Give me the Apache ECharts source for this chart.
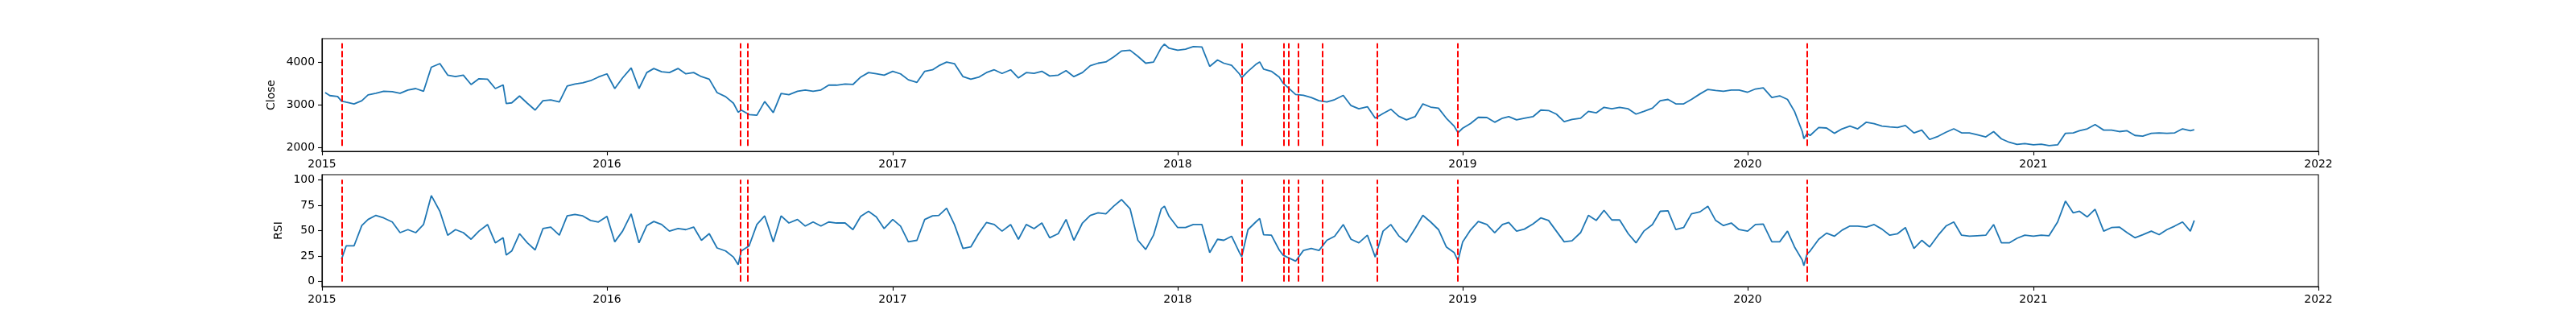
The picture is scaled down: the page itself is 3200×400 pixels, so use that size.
<!DOCTYPE html>
<html>
<head>
<meta charset="utf-8">
<title>Close / RSI</title>
<script src="https://cdn.jsdelivr.net/npm/echarts@6/dist/echarts.min.js"></script>
<style>
    html, body { margin: 0; padding: 0; background: #fff; }
    #chart { width: 3200px; height: 400px; }
</style>
</head>
<body>
<div id="chart"></div>
<script>
// 数据：按日期取样的收盘价和 RSI
const dates = [
    '2015-01-05','2015-01-11','2015-01-21','2015-01-26','2015-02-01','2015-02-11','2015-02-21','2015-03-01','2015-03-11','2015-03-21',
    '2015-04-01','2015-04-11','2015-04-21','2015-05-01','2015-05-11','2015-05-21','2015-06-01','2015-06-11','2015-06-21','2015-07-01',
    '2015-07-11','2015-07-21','2015-08-01','2015-08-11','2015-08-21','2015-08-25','2015-09-01','2015-09-11','2015-09-21','2015-10-01',
    '2015-10-11','2015-10-21','2015-11-01','2015-11-11','2015-11-21','2015-12-01','2015-12-11','2015-12-21','2016-01-01','2016-01-11',
    '2016-01-21','2016-02-01','2016-02-11','2016-02-21','2016-03-01','2016-03-11','2016-03-21','2016-04-01','2016-04-11','2016-04-21',
    '2016-05-01','2016-05-11','2016-05-21','2016-06-01','2016-06-11','2016-06-17','2016-06-21','2016-07-01','2016-07-11','2016-07-21',
    '2016-08-01','2016-08-11','2016-08-21','2016-09-01','2016-09-11','2016-09-21','2016-10-01','2016-10-11','2016-10-21','2016-11-01',
    '2016-11-11','2016-11-21','2016-12-01','2016-12-11','2016-12-21','2017-01-01','2017-01-11','2017-01-21','2017-02-01','2017-02-11',
    '2017-02-21','2017-03-01','2017-03-11','2017-03-21','2017-04-01','2017-04-11','2017-04-21','2017-05-01','2017-05-11','2017-05-21',
    '2017-06-01','2017-06-11','2017-06-21','2017-07-01','2017-07-11','2017-07-21','2017-08-01','2017-08-11','2017-08-21','2017-09-01',
    '2017-09-11','2017-09-21','2017-10-01','2017-10-11','2017-10-21','2017-11-01','2017-11-11','2017-11-21','2017-12-01','2017-12-11',
    '2017-12-15','2017-12-21','2018-01-01','2018-01-11','2018-01-21','2018-02-01','2018-02-11','2018-02-21','2018-03-01','2018-03-11',
    '2018-03-21','2018-03-24','2018-04-01','2018-04-11','2018-04-16','2018-04-21','2018-05-01','2018-05-11','2018-05-16','2018-05-21',
    '2018-06-01','2018-06-11','2018-06-21','2018-07-01','2018-07-11','2018-07-21','2018-08-01','2018-08-11','2018-08-21','2018-09-01',
    '2018-09-11','2018-09-21','2018-10-01','2018-10-11','2018-10-21','2018-11-01','2018-11-11','2018-11-21','2018-12-01','2018-12-11',
    '2018-12-21','2018-12-26','2019-01-01','2019-01-11','2019-01-21','2019-02-01','2019-02-11','2019-02-21','2019-03-01','2019-03-11',
    '2019-03-21','2019-04-01','2019-04-11','2019-04-21','2019-05-01','2019-05-11','2019-05-21','2019-06-01','2019-06-11','2019-06-21',
    '2019-07-01','2019-07-11','2019-07-21','2019-08-01','2019-08-11','2019-08-21','2019-09-01','2019-09-11','2019-09-21','2019-10-01',
    '2019-10-11','2019-10-21','2019-11-01','2019-11-11','2019-11-21','2019-12-01','2019-12-11','2019-12-21','2020-01-01','2020-01-11',
    '2020-01-21','2020-02-01','2020-02-11','2020-02-21','2020-03-01','2020-03-11','2020-03-13','2020-03-17','2020-03-21','2020-04-01',
    '2020-04-11','2020-04-21','2020-05-01','2020-05-11','2020-05-21','2020-06-01','2020-06-11','2020-06-21','2020-07-01','2020-07-11',
    '2020-07-21','2020-08-01','2020-08-11','2020-08-21','2020-09-01','2020-09-11','2020-09-21','2020-10-01','2020-10-11','2020-10-21',
    '2020-11-01','2020-11-11','2020-11-21','2020-12-01','2020-12-11','2020-12-21','2021-01-01','2021-01-11','2021-01-21','2021-02-01',
    '2021-02-11','2021-02-21','2021-03-01','2021-03-11','2021-03-21','2021-04-01','2021-04-11','2021-04-21','2021-05-01','2021-05-11',
    '2021-05-21','2021-06-01','2021-06-11','2021-06-21','2021-07-01','2021-07-11','2021-07-21','2021-07-26'
];

const close = [
    3290, 3220, 3200, 3090, 3065, 3025, 3100, 3235, 3275, 3320,
    3310, 3275, 3350, 3385, 3320, 3885, 3970, 3700, 3665, 3700,
    3480, 3615, 3605, 3385, 3470, 3035, 3050, 3210, 3040, 2880,
    3100, 3120, 3070, 3445, 3490, 3520, 3570, 3655, 3730, 3385,
    3635, 3870, 3385, 3760, 3855, 3780, 3760, 3855, 3730, 3760,
    3665, 3605, 3290, 3195, 3040, 2830, 2880, 2775, 2760, 3080,
    2820, 3270, 3240, 3320, 3350, 3320, 3350, 3465, 3465, 3490,
    3480, 3655, 3760, 3730, 3700, 3790, 3730, 3590, 3530, 3790,
    3825, 3920, 4005, 3970, 3665, 3605, 3650, 3760, 3825, 3740,
    3825, 3635, 3760, 3740, 3790, 3680, 3700, 3805, 3665, 3760,
    3920, 3980, 4010, 4125, 4265, 4285, 4140, 3980, 4005, 4345,
    4425, 4330, 4285, 4310, 4370, 4360, 3905, 4055, 3980, 3930,
    3730, 3640, 3790, 3950, 4010, 3840, 3790, 3655, 3510, 3430,
    3245, 3225, 3175, 3100, 3070, 3125, 3225, 2985, 2910, 2960,
    2690, 2800, 2900, 2735, 2650, 2725, 3025, 2950, 2925, 2690,
    2505, 2350, 2455, 2565, 2710, 2705, 2595, 2690, 2725, 2650,
    2690, 2725, 2880, 2870, 2785, 2610, 2660, 2690, 2850, 2815,
    2945, 2910, 2945, 2910, 2785, 2850, 2925, 3100, 3130, 3025,
    3025, 3130, 3260, 3365, 3340, 3320, 3350, 3350, 3300, 3375,
    3400, 3175, 3215, 3130, 2850, 2375, 2210, 2330, 2285, 2470,
    2460, 2335, 2440, 2505, 2440, 2595, 2560, 2505, 2485, 2470,
    2520, 2345, 2410, 2190, 2265, 2360, 2440, 2345, 2345, 2300,
    2250, 2375, 2205, 2125, 2075, 2095, 2065, 2080, 2045, 2065,
    2335, 2345, 2395, 2440, 2540, 2410, 2410, 2375, 2395, 2285,
    2270, 2335, 2345, 2335, 2345, 2440, 2395, 2420
];

const rsi = [
    null, null, null, 22, 35, 35, 55, 61, 65, 62.5,
    58.5, 48, 51, 48, 56, 84.5, 69, 45.5, 51, 48,
    41.5, 49.5, 56, 38, 43, 26, 30, 47, 38, 31,
    52, 53.5, 45.5, 64.5, 66, 64.5, 60, 58.5, 64, 39,
    49.5, 66.5, 38, 55, 59, 56, 49.5, 52, 51, 53.5,
    40.5, 47, 33, 30, 24, 16.5, 30, 35, 56, 64.5,
    39, 64.5, 57.5, 61, 54.5, 58.5, 54.5, 58.5, 57.5, 57.5,
    51, 64, 69, 63.5, 52, 61, 54.5, 39, 40.5, 61,
    64.5, 65, 72, 56, 32.5, 34, 47, 58, 56, 49.5,
    56, 41.5, 56, 52, 57.5, 43, 47, 61, 40.5, 57.5,
    65, 67.5, 66.5, 74, 80.5, 71.5, 40.5, 31.5, 45.5, 71.5,
    74, 64, 53, 53, 56, 56, 28.5, 41.5, 40.5, 44.5,
    28.5, 24.5, 51, 58.5, 62, 46, 45.5, 31, 26, 24,
    20, 30.5, 32.5, 30.5, 40.5, 44.5, 56, 41.5, 38, 45.5,
    24, 49.5, 56, 45, 38.5, 52, 65, 58.5, 51, 34,
    28.5, 20.5, 39, 50.5, 59, 56, 48, 56, 58, 49.5,
    51.5, 56.5, 62.5, 60, 49.5, 39, 40, 48, 65, 60,
    70, 60.5, 60.5, 47, 38, 49.5, 56, 69, 69.5, 51,
    53, 66.5, 68.5, 74, 60, 55, 57.5, 51, 49.5, 56,
    56.5, 39, 39, 49.5, 34, 21, 15.5, 27, 30, 41.5,
    47.5, 44.5, 50.5, 54.5, 54.5, 53.5, 56, 51.5, 45.5, 47,
    53, 32.5, 40.5, 34, 45.5, 54.5, 58.5, 45.5, 44.5, 45,
    45.5, 56, 38, 38, 42.5, 45.5, 44.5, 45.5, 45, 58.5,
    79, 67.5, 69, 63.5, 71, 49.5, 53, 53.5, 48, 43,
    46, 49.5, 46, 51, 54.5, 58.5, 49.5, 60
];

// 红色虚线标记的日期
const signalDates = [
    '2015-01-27', '2016-06-20', '2016-06-29', '2018-03-24', '2018-05-17', '2018-05-23',
    '2018-06-04', '2018-07-05', '2018-09-13', '2018-12-26', '2020-03-17'
];

// 虚线的上下端（上图为收盘价最低 / 最高，下图为 0 / 100）
const closeLow = 2038;
const closeHigh = 4447;
const rsiLow = 0;
const rsiHigh = 100;

// 坐标轴刻度
const xTickYears = ['2015', '2016', '2017', '2018', '2019', '2020', '2021', '2022'];
const closeTicks = [2000, 3000, 4000];
const rsiTicks = [0, 25, 50, 75, 100];

const FONT = 'DejaVu Sans';
const FONT_SIZE = 13.9;
const LINE_COLOR = '#1f77b4';

// 日期字符串转时间戳（本地时间）
function toTime(s) {
    const p = s.split('-').map(Number);
    return new Date(p[0], (p[1] || 1) - 1, p[2] || 1).getTime();
}

const xTickValues = xTickYears.map(y => toTime(y));

function makeXAxis(gridIndex) {
    return {
        type: 'value',
        gridIndex: gridIndex,
        min: xTickValues[0],
        max: xTickValues[xTickValues.length - 1],
        axisLine: { show: true, onZero: false, lineStyle: { color: '#000', width: 1.1 } },
        axisTick: { show: true, customValues: xTickValues, length: 5, lineStyle: { color: '#000', width: 1.1 } },
        axisLabel: {
            customValues: xTickValues,
            showMinLabel: true,
            showMaxLabel: true,
            margin: 9,
            color: '#000',
            fontFamily: FONT,
            fontSize: FONT_SIZE,
            formatter: function (v) {
                return String(new Date(v).getFullYear());
            }
        },
        splitLine: { show: false }
    };
}

function makeYAxis(gridIndex, name, min, max, ticks, nameGap) {
    return {
        type: 'value',
        gridIndex: gridIndex,
        min: min,
        max: max,
        name: name,
        nameLocation: 'middle',
        nameGap: nameGap,
        nameTextStyle: { color: '#000', fontFamily: FONT, fontSize: FONT_SIZE },
        axisLine: { show: true, onZero: false, lineStyle: { color: '#000', width: 1.1 } },
        axisTick: { show: true, customValues: ticks, length: 5, lineStyle: { color: '#000', width: 1.1 } },
        axisLabel: {
            customValues: ticks,
            margin: 9,
            color: '#000',
            fontFamily: FONT,
            fontSize: FONT_SIZE,
            formatter: function (v) { return String(v); }
        },
        splitLine: { show: false }
    };
}

// 红色虚线：每个日期一条竖线段
function signalLines(low, high) {
    return {
        silent: true,
        symbol: ['none', 'none'],
        animation: false,
        label: { show: false },
        emphasis: { disabled: true },
        lineStyle: { color: '#ff0000', type: [8, 3], width: 2 },
        data: signalDates.map(d => [{ coord: [toTime(d), low] }, { coord: [toTime(d), high] }])
    };
}

const chart = echarts.init(document.getElementById('chart'));

const option = {
    animation: false,
    backgroundColor: '#fff',
    grid: [
        { left: 400, right: 320, top: 48, height: 140, show: true, borderColor: '#000', borderWidth: 1.1, backgroundColor: 'transparent' },
        { left: 400, right: 320, top: 217, height: 139, show: true, borderColor: '#000', borderWidth: 1.1, backgroundColor: 'transparent' }
    ],
    xAxis: [makeXAxis(0), makeXAxis(1)],
    yAxis: [
        makeYAxis(0, 'Close', 1912, 4556, closeTicks, 51),
        makeYAxis(1, 'RSI', -5, 105, rsiTicks, 41)
    ],
    series: [
        {
            name: 'Close',
            type: 'line',
            xAxisIndex: 0,
            yAxisIndex: 0,
            showSymbol: false,
            data: dates.map((d, i) => [toTime(d), close[i]]),
            lineStyle: { color: LINE_COLOR, width: 1.8 },
            markLine: signalLines(closeLow, closeHigh)
        },
        {
            name: 'RSI',
            type: 'line',
            xAxisIndex: 1,
            yAxisIndex: 1,
            showSymbol: false,
            connectNulls: false,
            data: dates.map((d, i) => [toTime(d), rsi[i]]),
            lineStyle: { color: LINE_COLOR, width: 1.8 },
            markLine: signalLines(rsiLow, rsiHigh)
        }
    ]
};

chart.setOption(option);

window.addEventListener('resize', function () {
    chart.resize();
});
</script>
</body>
</html>
